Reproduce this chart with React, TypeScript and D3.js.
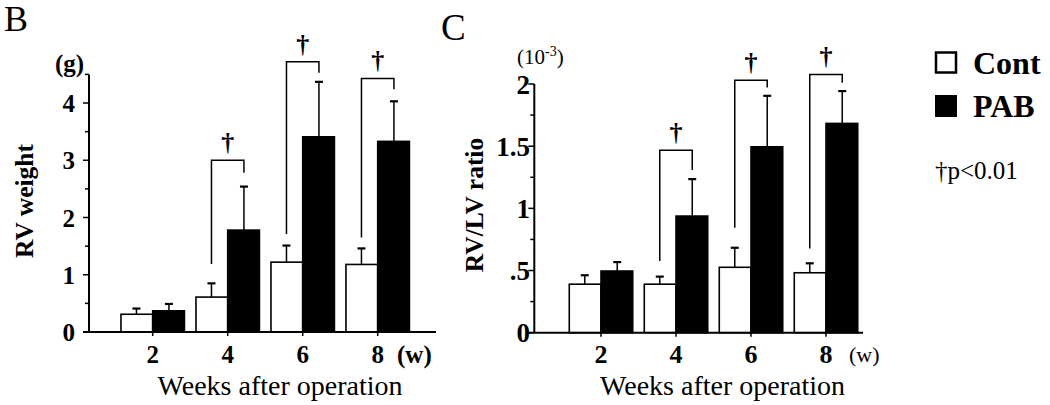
import React from "react";
import * as d3 from "d3";

const weeks = ["2", "4", "6", "8"];
const series = ["Cont", "PAB"];

// Panel B: RV weight (g)
const rvWeightCont = [0.31, 0.61, 1.22, 1.18];
const rvWeightContErr = [0.1, 0.24, 0.29, 0.28];
const rvWeightPAB = [0.37, 1.78, 3.41, 3.33];
const rvWeightPABErr = [0.12, 0.76, 0.96, 0.7];
const rvWeightTicks = [0, 1, 2, 3, 4];
// significance brackets: week index, bracket top, left foot, right foot (data units)
const rvWeightSigIdx = [1, 2, 3];
const rvWeightSigTop = [3.0, 4.72, 4.43];
const rvWeightSigLeft = [1.19, 1.71, 1.65];
const rvWeightSigRight = [2.78, 4.53, 4.24];

// Panel C: RV/LV ratio (10^-3)
const ratioCont = [0.39, 0.39, 0.526, 0.482];
const ratioContErr = [0.072, 0.061, 0.157, 0.076];
const ratioPAB = [0.496, 0.938, 1.495, 1.683];
const ratioPABErr = [0.072, 0.297, 0.41, 0.26];
const ratioTicks = [0, 0.5, 1, 1.5, 2];
const ratioTickLabels = ["0", ".5", "1", "1.5", "2"];
const ratioSigIdx = [1, 2, 3];
const ratioSigTop = [1.468, 2.031, 2.077];
const ratioSigLeft = [0.576, 0.844, 0.678];
const ratioSigRight = [1.308, 1.972, 2.01];

const FONT = "'Liberation Serif', 'Times New Roman', serif";

type PanelProps = {
  axisX: number;
  bandX0: number;
  baseY: number;
  topY: number;
  yMax: number;
  minorStep: number;
  axisEnd: number;
  cont: number[];
  contErr: number[];
  pab: number[];
  pabErr: number[];
  ticks: number[];
  tickLabels: string[];
  yLabelX: number;
  yTickSize: number;
  xTickBaseline: number;
  xTickSize: number;
  sigIdx: number[];
  sigTop: number[];
  sigLeft: number[];
  sigRight: number[];
};

function Panel(p: PanelProps) {
  const y = d3.scaleLinear().domain([0, p.yMax]).range([p.baseY, p.topY]);
  const x = d3
    .scaleBand<string>()
    .domain(weeks)
    .range([p.bandX0, p.bandX0 + 300])
    .paddingInner(0.134)
    .paddingOuter(0.067);
  const xs = d3.scaleBand<string>().domain(series).range([0, x.bandwidth()]);
  const minor = d3.range(0, p.yMax + 1e-9, p.minorStep);
  const vals = [p.cont, p.pab];
  const errs = [p.contErr, p.pabErr];
  return (
    <g>
      {/* bars */}
      {weeks.map((w, i) =>
        series.map((s, k) => {
          const bx = (x(w) as number) + (xs(s) as number);
          const bw = xs.bandwidth();
          const v = vals[k][i];
          const e = errs[k][i];
          const cx = bx + bw / 2;
          return (
            <g key={w + s}>
              <line x1={cx} x2={cx} y1={y(v)} y2={y(v + e)} stroke="#000" strokeWidth={1.5} />
              <line x1={cx - 4} x2={cx + 4} y1={y(v + e)} y2={y(v + e)} stroke="#000" strokeWidth={2.2} />
              <rect
                x={bx + (k === 0 ? 0.75 : 0)}
                y={y(v)}
                width={bw - 0.75}
                height={p.baseY - y(v)}
                fill={k === 0 ? "#fff" : "#000"}
                stroke="#000"
                strokeWidth={1.6}
              />
            </g>
          );
        })
      )}
      {/* brackets */}
      {p.sigIdx.map((idx, j) => {
        const w = weeks[idx];
        const lx = (x(w) as number) + (xs("Cont") as number) + xs.bandwidth() / 2;
        const rx = (x(w) as number) + (xs("PAB") as number) + xs.bandwidth() / 2;
        const ty = y(p.sigTop[j]);
        return (
          <g key={"sig" + j}>
            <path
              d={`M${lx},${y(p.sigLeft[j])}V${ty}H${rx}V${y(p.sigRight[j])}`}
              fill="none"
              stroke="#000"
              strokeWidth={1.5}
            />
            <text
              x={(lx + rx) / 2}
              y={ty - 9}
              textAnchor="middle"
              fontFamily={FONT}
              fontWeight="bold"
              fontSize={26}
            >
              †
            </text>
          </g>
        );
      })}
      {/* y axis */}
      <line x1={p.axisX} x2={p.axisX} y1={p.topY} y2={p.baseY} stroke="#000" strokeWidth={2} />
      {minor.map((t) => (
        <line
          key={"m" + t}
          x1={p.axisX - (p.ticks.some((m) => Math.abs(m - t) < 1e-9) ? 6 : 4)}
          x2={p.axisX}
          y1={y(t)}
          y2={y(t)}
          stroke="#000"
          strokeWidth={1.5}
        />
      ))}
      {p.ticks.map((t, i) => (
        <text
          key={"yl" + t}
          x={p.yLabelX}
          y={y(t)}
          dy="0.36em"
          textAnchor="end"
          fontFamily={FONT}
          fontWeight="bold"
          fontSize={p.yTickSize}
        >
          {p.tickLabels[i]}
        </text>
      ))}
      {/* x axis */}
      <line x1={p.axisX - 6} x2={p.axisEnd} y1={p.baseY} y2={p.baseY} stroke="#000" strokeWidth={2} />
      {weeks.map((w) => {
        const cx = (x(w) as number) + x.bandwidth() / 2;
        return (
          <g key={"xt" + w}>
            <line x1={cx} x2={cx} y1={p.baseY} y2={p.baseY + 4} stroke="#000" strokeWidth={1.5} />
            <text
              x={cx}
              y={p.xTickBaseline}
              textAnchor="middle"
              fontFamily={FONT}
              fontWeight="bold"
              fontSize={p.xTickSize}
            >
              {w}
            </text>
          </g>
        );
      })}
    </g>
  );
}

export default function App() {
  return (
    <svg
      width={1050}
      height={405}
      viewBox="0 0 1050 405"
      style={{ position: "absolute", left: 0, top: 0, background: "#fff" }}
    >
      <rect x={0} y={0} width={1050} height={405} fill="#fff" />
      {/* Panel B */}
      <text x={4} y={31} fontFamily={FONT} fontSize={36}>B</text>
      <text x={55} y={72} fontFamily={FONT} fontWeight="bold" fontSize={25}>(g)</text>
      <text
        transform="translate(33,201) rotate(-90)"
        textAnchor="middle"
        fontFamily={FONT}
        fontWeight="bold"
        fontSize={25.5}
      >
        RV weight
      </text>
      <Panel
        axisX={89}
        bandX0={115.2}
        baseY={332}
        topY={74.4}
        yMax={4.5}
        minorStep={0.5}
        axisEnd={436}
        cont={rvWeightCont}
        contErr={rvWeightContErr}
        pab={rvWeightPAB}
        pabErr={rvWeightPABErr}
        ticks={rvWeightTicks}
        tickLabels={rvWeightTicks.map(String)}
        yLabelX={75}
        yTickSize={25}
        xTickBaseline={363}
        xTickSize={25}
        sigIdx={rvWeightSigIdx}
        sigTop={rvWeightSigTop}
        sigLeft={rvWeightSigLeft}
        sigRight={rvWeightSigRight}
      />
      <text x={397} y={363} fontFamily={FONT} fontWeight="bold" fontSize={25}>(w)</text>
      <text x={280} y={395} textAnchor="middle" fontFamily={FONT} fontSize={28}>
        Weeks after operation
      </text>

      {/* Panel C */}
      <text x={441} y={40} fontFamily={FONT} fontSize={37}>C</text>
      <text x={517} y={64} fontFamily={FONT} fontSize={21}>
        (10<tspan fontSize={14} dy={-8}>-3</tspan>
        <tspan dy={8}>)</tspan>
      </text>
      <text
        transform="translate(483,205) rotate(-90)"
        textAnchor="middle"
        fontFamily={FONT}
        fontWeight="bold"
        fontSize={25.5}
      >
        RV/LV ratio
      </text>
      <Panel
        axisX={534.3}
        bandX0={563.5}
        baseY={332.7}
        topY={84}
        yMax={2}
        minorStep={0.25}
        axisEnd={863}
        cont={ratioCont}
        contErr={ratioContErr}
        pab={ratioPAB}
        pabErr={ratioPABErr}
        ticks={ratioTicks}
        tickLabels={ratioTickLabels}
        yLabelX={530}
        yTickSize={27}
        xTickBaseline={363}
        xTickSize={26}
        sigIdx={ratioSigIdx}
        sigTop={ratioSigTop}
        sigLeft={ratioSigLeft}
        sigRight={ratioSigRight}
      />
      <text x={849} y={362} fontFamily={FONT} fontSize={22}>(w)</text>
      <text x={722.5} y={395} textAnchor="middle" fontFamily={FONT} fontSize={28}>
        Weeks after operation
      </text>

      {/* Legend */}
      <rect x={936} y={52.5} width={20} height={20} fill="#fff" stroke="#000" strokeWidth={2.5} />
      <text x={973} y={74} fontFamily={FONT} fontWeight="bold" fontSize={32}>Cont</text>
      <rect x={935} y={95} width={22} height={22} fill="#000" />
      <text x={973} y={117} fontFamily={FONT} fontWeight="bold" fontSize={32}>PAB</text>
      <text x={935} y={179} fontFamily={FONT} fontSize={25}>†p&lt;0.01</text>
    </svg>
  );
}
